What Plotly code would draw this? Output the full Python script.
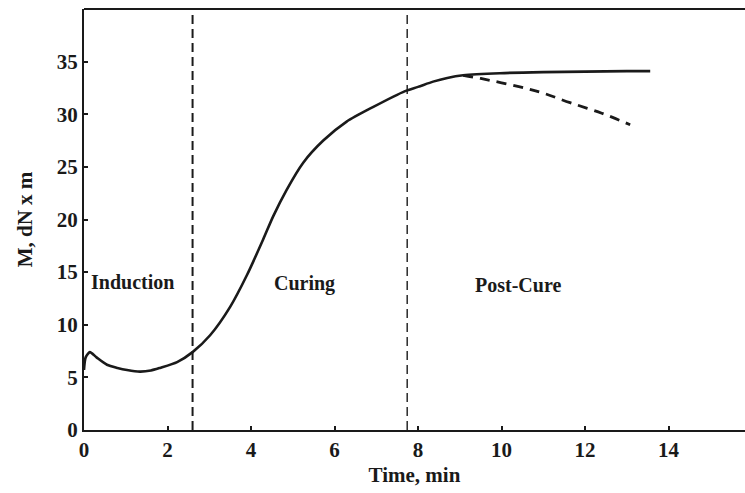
import plotly.graph_objects as go

# Main cure curve (torque vs time)
time_min = [0.0, 0.04, 0.14, 0.3, 0.55, 0.8, 1.03, 1.34, 1.6, 1.82, 2.23, 2.6, 3.02, 3.5, 3.9,
            4.29, 4.53, 4.85, 5.25, 5.73, 6.29, 6.93, 7.69, 8.0, 8.36, 8.7, 9.08, 9.96,
            11.0, 12.0, 13.0, 13.56]
torque = [5.7, 6.9, 7.4, 6.9, 6.2, 5.9, 5.7, 5.55, 5.65, 5.9, 6.45, 7.4, 9.0, 11.7, 14.7,
          18.1, 20.3, 22.8, 25.4, 27.5, 29.3, 30.7, 32.2, 32.6, 33.1, 33.45, 33.7, 33.9,
          34.0, 34.05, 34.1, 34.1]

# Reversion branch (dashed)
time_rev = [9.08, 9.5, 10.44, 11.0, 11.64, 12.4, 13.08]
torque_rev = [33.7, 33.4, 32.6, 32.0, 31.1, 30.1, 29.0]

# Phase boundaries and labels
boundaries = [2.6, 7.74]
boundary_widths = [2.0, 1.4]
phase_labels = ["Induction", "Curing", "Post-Cure"]
phase_x = [1.15, 5.27, 10.4]
phase_y = [14.1, 13.9, 13.8]

x_ticks = [0, 2, 4, 6, 8, 10, 12, 14]
y_ticks = [0, 5, 10, 15, 20, 25, 30, 35]

FONT = "Liberation Serif"
INK = "#1a1a1a"

fig = go.Figure()
fig.add_trace(go.Scatter(x=time_min, y=torque, mode="lines",
                         line=dict(color=INK, width=2.6, shape="spline", smoothing=0.7),
                         showlegend=False, hoverinfo="skip"))
fig.add_trace(go.Scatter(x=time_rev, y=torque_rev, mode="lines",
                         line=dict(color=INK, width=2.8, dash="10px,7px", shape="spline"),
                         showlegend=False, hoverinfo="skip"))

for b, w in zip(boundaries, boundary_widths):
    fig.add_vline(x=b, line=dict(color=INK, width=w, dash="9px,5px"))

for t, xx, yy in zip(phase_labels, phase_x, phase_y):
    fig.add_annotation(x=xx, y=yy, text="<b>" + t + "</b>", showarrow=False,
                       font=dict(family=FONT, size=20, color=INK))

fig.update_layout(
    width=745, height=493,
    margin=dict(l=84, r=0, t=9, b=63),
    paper_bgcolor="white", plot_bgcolor="white",
    font=dict(family=FONT, color=INK),
    xaxis=dict(range=[0, 15.83], tickvals=x_ticks, ticks="inside", ticklen=4, tickwidth=2,
               tickcolor=INK, showline=True, linecolor=INK, linewidth=2, mirror=False,
               showgrid=False, zeroline=False,
               tickfont=dict(family=FONT, size=21, color=INK, weight="bold"),
               title=dict(text="<b>Time, min</b>", font=dict(family=FONT, size=21, color=INK),
                          standoff=6)),
    yaxis=dict(range=[0, 40], tickvals=y_ticks, ticks="inside", ticklen=4, tickwidth=2,
               tickcolor=INK, showline=True, linecolor=INK, linewidth=2,
               showgrid=False, zeroline=False,
               tickfont=dict(family=FONT, size=21, color=INK, weight="bold"),
               title=dict(text="<b>M, dN x m</b>", font=dict(family=FONT, size=21, color=INK),
                          standoff=18)),
)
# top border line
fig.add_shape(type="line", xref="paper", yref="paper", x0=0, x1=1, y0=1, y1=1,
              line=dict(color=INK, width=2))

fig.write_html("out.html")
